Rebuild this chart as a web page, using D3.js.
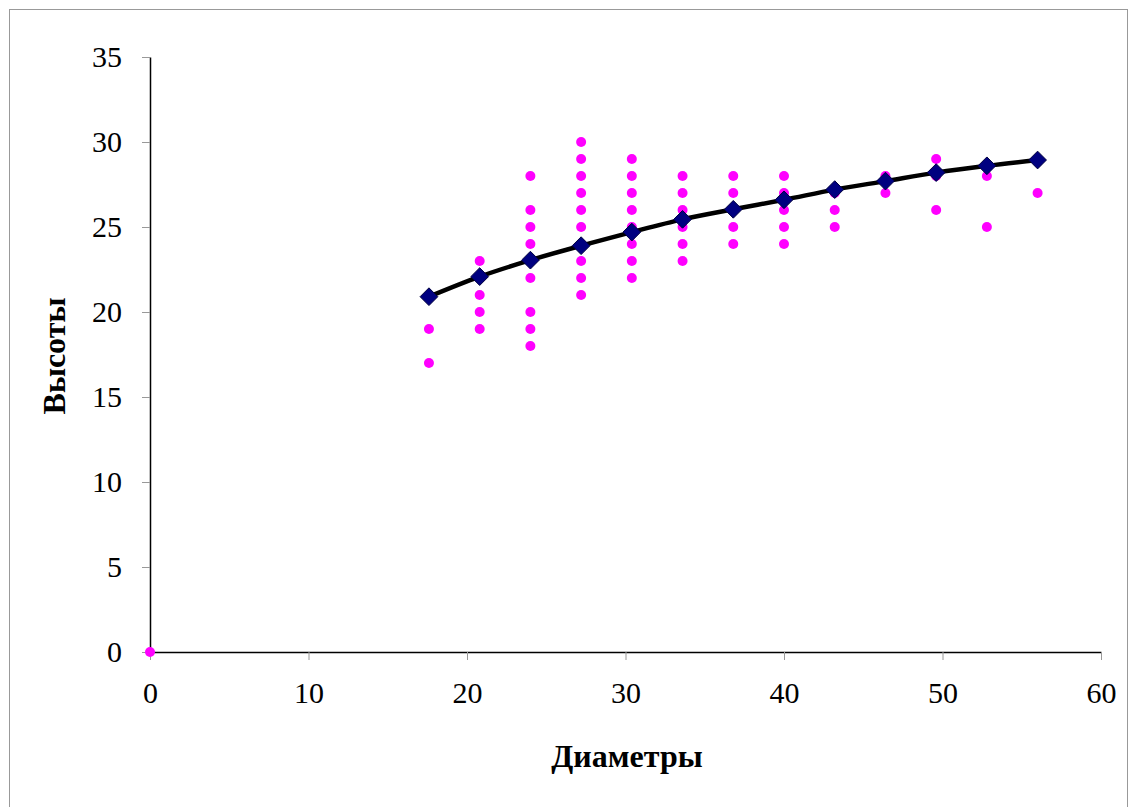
<!DOCTYPE html>
<html><head>
<meta charset="utf-8">
<script src="https://cdn.jsdelivr.net/npm/d3@7"></script>
<style>
  body { margin: 0; background: #fff; }
  .chart text { font-family: "Liberation Serif", "Times New Roman", serif; fill: #000; }
  .axis .tick line { stroke: #999; }
  .axis path { stroke: #000; }
</style>
</head>
<body>
<svg class="chart"></svg>
<script>
// observed heights per diameter class
var diameters = [17.6, 20.8, 24, 27.2, 30.4, 33.6, 36.8, 40, 43.2, 46.4, 49.6, 52.8, 56];
var heights = [
  [19, 17],
  [23, 22, 21, 20, 19],
  [28, 26, 25, 24, 23, 22, 20, 19, 18],
  [30, 29, 28, 27, 26, 25, 24, 23, 22, 21],
  [29, 28, 27, 26, 25, 24, 23, 22],
  [28, 27, 26, 25, 24, 23],
  [28, 27, 26, 25, 24],
  [28, 27, 26, 25, 24],
  [27, 26, 25],
  [28, 27],
  [29, 28, 26],
  [28, 25],
  [27]
];
// fitted curve (averages)
var fitted = [20.9, 22.08, 23.05, 23.9, 24.7, 25.45, 26.04, 26.6, 27.2, 27.7, 28.2, 28.6, 28.94];
var xTicks = [0, 10, 20, 30, 40, 50, 60];
var yTicks = [0, 5, 10, 15, 20, 25, 30, 35];

var W = 1131, H = 807;
var svg = d3.select(".chart").attr("width", W).attr("height", H);

svg.append("rect")
  .attr("x", 9.5).attr("y", 9.5)
  .attr("width", 1118).attr("height", 820)
  .attr("fill", "none").attr("stroke", "#999");

var x = d3.scaleLinear().domain([0, 60]).range([150, 1101]);
var y = d3.scaleLinear().domain([0, 35]).range([652, 57]);

svg.append("g")
  .attr("class", "axis")
  .attr("transform", "translate(0,652)")
  .call(d3.axisBottom(x).tickValues(xTicks).tickSize(8).tickSizeOuter(0).tickPadding(22))
  .selectAll("text").style("font-size", "30px");

svg.append("g")
  .attr("class", "axis")
  .attr("transform", "translate(150,0)")
  .call(d3.axisLeft(y).tickValues(yTicks).tickSize(8).tickSizeOuter(0).tickPadding(20))
  .selectAll("text").style("font-size", "30px");

svg.selectAll(".domain").attr("stroke-width", 1.5);

// observation points
var pts = [{d: 0, h: 0}];
diameters.forEach(function(d, i) {
  heights[i].forEach(function(h) { pts.push({d: d, h: h}); });
});

svg.append("g").selectAll("circle")
  .data(pts).enter().append("circle")
  .attr("cx", function(p) { return x(p.d); })
  .attr("cy", function(p) { return y(p.h); })
  .attr("r", 5)
  .attr("fill", "#ff00ff");

var line = d3.line()
  .x(function(d, i) { return x(diameters[i]); })
  .y(function(d) { return y(d); })
  .curve(d3.curveCatmullRom);

svg.append("path")
  .datum(fitted)
  .attr("d", line)
  .attr("fill", "none")
  .attr("stroke", "#000")
  .attr("stroke-width", 4.5);

svg.append("g").selectAll("path")
  .data(fitted).enter().append("path")
  .attr("d", d3.symbol().type(d3.symbolDiamond2).size(200))
  .attr("transform", function(d, i) { return "translate(" + x(diameters[i]) + "," + y(d) + ")"; })
  .attr("fill", "#000080")
  .attr("stroke", "#000040")
  .attr("stroke-width", 1);

svg.append("text")
  .attr("x", 627).attr("y", 767)
  .attr("text-anchor", "middle")
  .style("font-size", "32px").style("font-weight", "bold")
  .text("Диаметры");

svg.append("text")
  .attr("transform", "translate(65,356) rotate(-90)")
  .attr("text-anchor", "middle")
  .style("font-size", "32px").style("font-weight", "bold")
  .text("Высоты");
</script>
</body></html>
